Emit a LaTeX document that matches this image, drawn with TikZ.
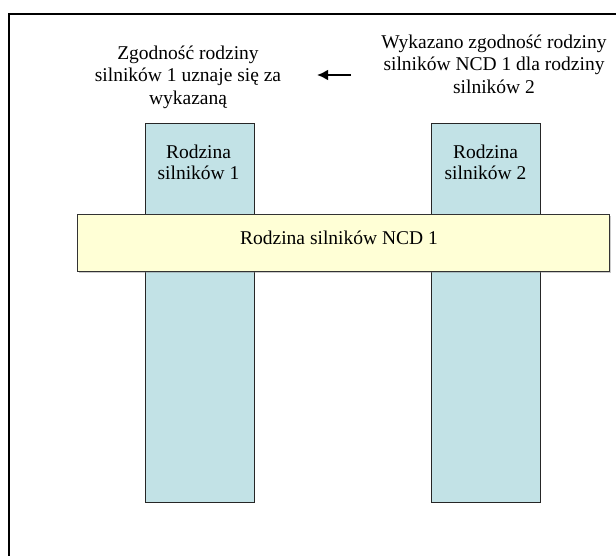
\documentclass[tikz,border=0pt]{standalone}
\usepackage{fontspec}
\setmainfont{Liberation Serif}
\usetikzlibrary{shadows,arrows.meta}
\definecolor{famblue}{RGB}{194,226,230}
\definecolor{ncdyellow}{RGB}{255,255,214}
\begin{document}
\begin{tikzpicture}[x=1pt,y=-1pt,
  fambox/.style={draw=black!85,line width=0.9pt,fill=famblue,rectangle,inner sep=0pt,anchor=north west,
     drop shadow={shadow xshift=1pt,shadow yshift=-1pt,opacity=0.35}},
  ncdbox/.style={draw=black!80,line width=0.9pt,fill=ncdyellow,rectangle,inner sep=0pt,anchor=north west,
     drop shadow={shadow xshift=1.5pt,shadow yshift=-1.5pt,opacity=0.4}},
  lbl/.style={font=\fontsize{19.5}{22.5}\selectfont,align=center,inner sep=0pt},
  boxlbl/.style={font=\fontsize{19.5}{21}\selectfont,align=center,inner sep=0pt}]
\useasboundingbox (0,0) rectangle (616,556);
% frame
\coordinate (fb) at (9,556);
\coordinate (ftl) at (9,14);
\coordinate (fr) at (616,14);
\draw[line width=1.3pt] (fb) -- (ftl) -- (fr);
% family boxes
\node[fambox,minimum width=109pt,minimum height=379pt] (f1) at (145,123) {};
\node[fambox,minimum width=109pt,minimum height=379pt] (f2) at (431,123) {};
\node[boxlbl] (t1) at (198.5,162) {Rodzina\\silników 1};
\node[boxlbl] (t2) at (485.5,162) {Rodzina\\silników 2};
% NCD family
\node[ncdbox,minimum width=532pt,minimum height=57pt] (ncd) at (77,214) {};
\node[lbl,anchor=base] (tn) at (339,245) {Rodzina silników NCD 1};
% texts at top
\node[lbl] (left) at (188,77) {Zgodność rodziny\\silników 1 uznaje się za\\wykazaną};
\node[lbl] (right) at (494,64) {Wykazano zgodność rodziny\\silników NCD 1 dla rodziny\\silników 2};
\coordinate (as) at (351,75);
\coordinate (ae) at (317,75);
\draw[line width=2.8pt,-{Latex[length=11pt,width=11pt]}] (as) -- (ae);
\end{tikzpicture}
\end{document}
